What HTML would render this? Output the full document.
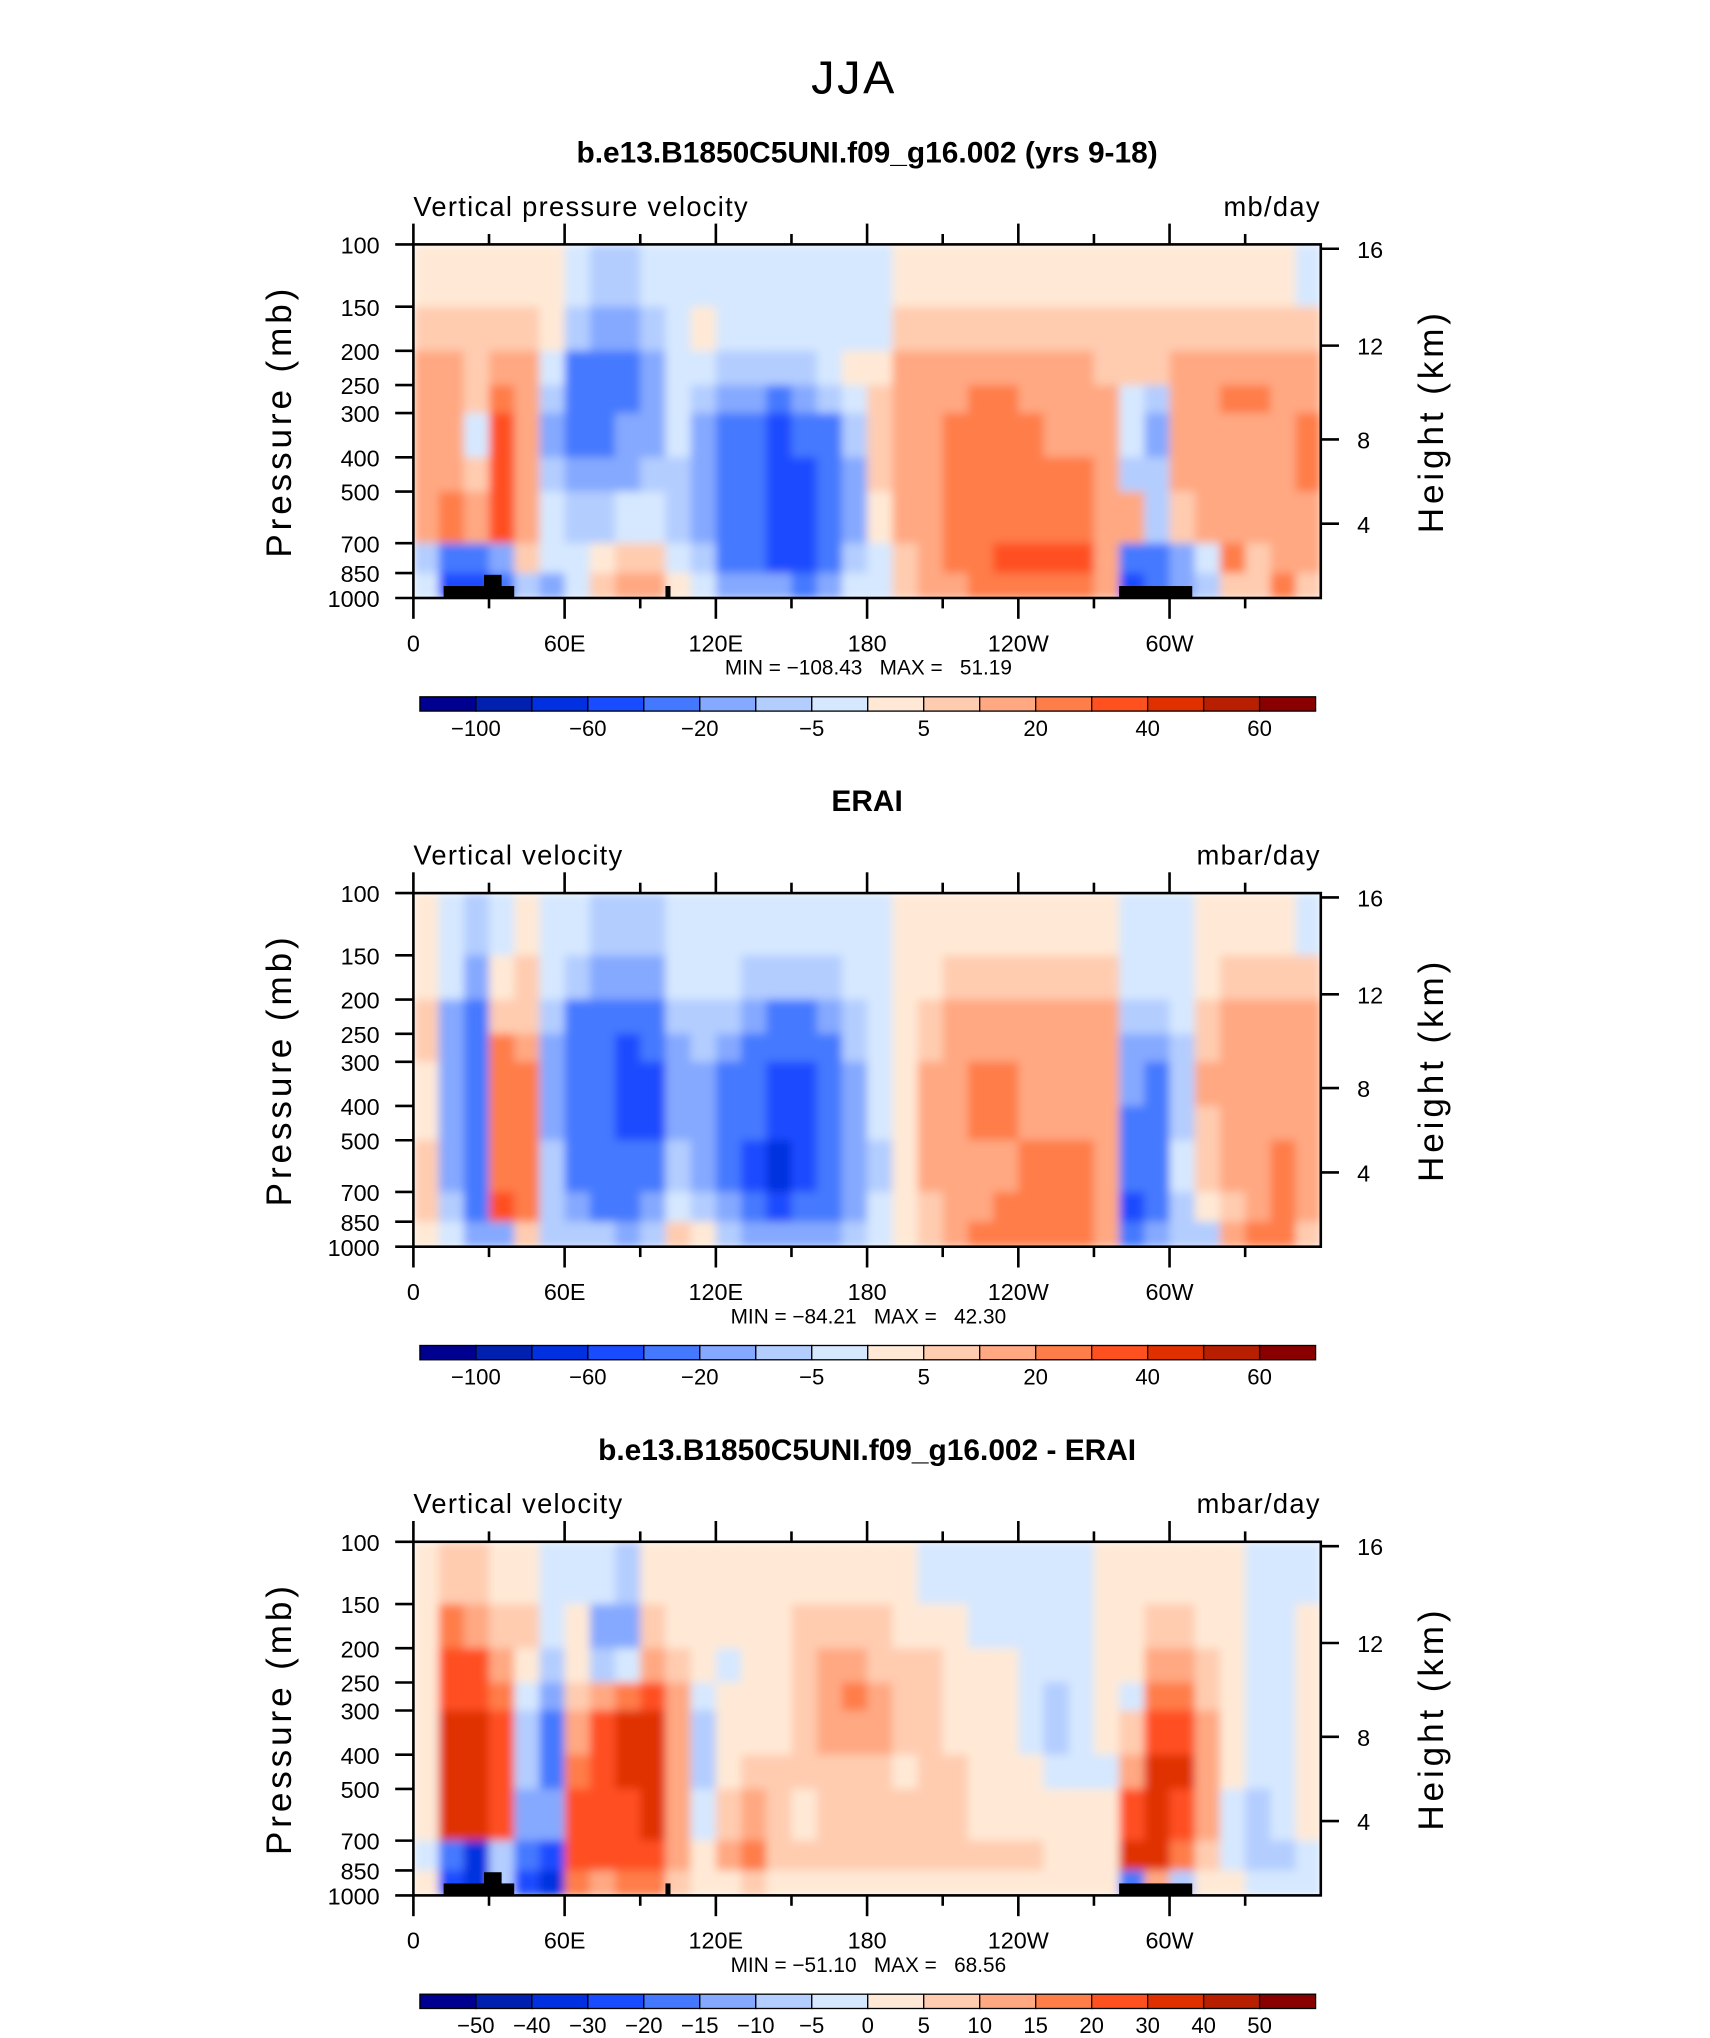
<!DOCTYPE html>
<html><head><meta charset="utf-8"><style>
html,body{margin:0;padding:0;background:#fff;}
svg{display:block;}
text{font-family:"Liberation Sans",sans-serif;fill:#000;white-space:pre;}
</style></head><body>
<svg id="fig" width="1710" height="2038" viewBox="0 0 1315.4 1567.7" preserveAspectRatio="none" xmlns="http://www.w3.org/2000/svg">
<defs>
<filter id="soft" x="0" y="0" width="1" height="1"><feGaussianBlur stdDeviation="3.5" edgeMode="duplicate"/></filter>
</defs>
<text x="657" y="72" font-size="36" text-anchor="middle" font-weight="300" letter-spacing="2">JJA</text>
</svg>
<script>
// ---- data ----
const pressureEdges = [100,150,200,250,300,400,500,700,850,1000];
const pressureTicks = [100,150,200,250,300,400,500,700,850,1000];
const heightTicks = [16,12,8,4];
const lonMajorLabels = ["0","60E","120E","180","120W","60W"];
const levels1 = [-100,-80,-60,-40,-20,-10,-5,0,5,10,20,30,40,50,60];
const levelLabels1 = ["-100","","-60","","-20","","-5","","5","","20","","40","","60"];
const levels3 = [-50,-40,-30,-20,-15,-10,-5,0,5,10,15,20,30,40,50];
const levelLabels3 = ["-50","-40","-30","-20","-15","-10","-5","0","5","10","15","20","30","40","50"];
const palette = ["#000090","#0020b0","#0030e0","#1a4cff","#4479ff","#85a9ff","#b3cdff","#d6e8ff","#ffe9d6","#ffccb0","#ffa882","#ff7d48","#ff5020","#e03000","#b81f00","#8a0000"];

// columns = 10° longitude bands 0..360, rows = pressure bands top->bottom
const model = [
[2,7,10,12,10,12,15,-10,-5],[2,7,15,15,10,15,20,-30,-50],[2,5,7,5,-2,7,10,-40,-60],[2,7,15,20,35,35,35,-20,-30],
[2,7,10,15,15,15,15,7,-10],[2,2,-2,-7,-15,-10,-5,-2,-15],[-2,-7,-30,-30,-30,-15,-7,-2,-5],[-7,-15,-30,-30,-30,-20,-7,2,7],
[-7,-15,-30,-30,-20,-15,-2,7,10],[-2,-7,-15,-15,-15,-10,-2,7,10],[-2,-2,-2,-5,-5,-7,-7,-2,2],[-2,2,-2,-7,-15,-15,-15,-7,-2],
[-2,-2,-7,-15,-30,-30,-30,-30,-15],[-2,-2,-10,-20,-30,-35,-35,-30,-15],[-2,-2,-10,-25,-45,-50,-50,-50,-20],[-2,-5,-10,-20,-40,-55,-55,-45,-25],
[-2,-2,-5,-10,-25,-35,-35,-30,-15],[-2,-2,2,-2,-7,-15,-15,-10,-5],[-2,-2,2,7,7,5,2,-2,-2],[2,5,10,15,15,15,10,7,5],
[2,7,10,15,15,15,15,15,10],[2,7,12,18,25,25,25,25,15],[2,7,12,20,25,25,25,25,20],[2,7,12,20,25,25,25,35,25],
[2,7,12,15,20,25,25,35,25],[2,7,10,15,15,25,25,35,25],[2,5,10,12,15,20,25,35,25],[2,5,7,10,12,15,15,15,10],
[2,7,5,-5,-5,-7,10,-40,-50],[2,7,7,-7,-15,-10,-7,-30,-30],[2,7,10,15,15,15,7,-15,-15],[2,7,15,15,15,15,10,-5,-7],
[2,7,15,25,15,15,15,20,5],[2,7,15,25,15,15,10,7,5],[2,7,15,15,15,15,15,10,20],[-2,7,12,15,20,20,15,10,7]];
const erai = [
[2,2,7,7,2,2,7,5,2],[-2,-5,-15,-20,-20,-15,-15,-10,-5],[-7,-15,-30,-30,-30,-30,-30,-30,-20],[-2,2,7,25,25,25,25,35,-20],
[2,7,7,15,25,25,25,25,7],[-2,-2,-7,-15,-15,-15,-10,-10,-7],[-2,-7,-30,-30,-30,-30,-30,-20,-10],[-7,-15,-30,-30,-30,-30,-30,-30,-10],
[-7,-15,-30,-45,-45,-45,-30,-30,-15],[-7,-15,-30,-30,-45,-45,-30,-15,-7],[-2,-2,-7,-15,-15,-15,-10,-5,5],[-2,-2,-7,-10,-15,-15,-15,-7,2],
[-2,-2,-7,-15,-30,-30,-30,-15,-7],[-2,-7,-15,-30,-30,-35,-45,-30,-15],[-2,-7,-30,-30,-45,-60,-65,-45,-15],[-2,-10,-30,-30,-45,-50,-50,-40,-15],
[-2,-7,-15,-30,-30,-30,-30,-30,-15],[-2,-2,-7,-10,-15,-15,-15,-15,-7],[-2,-2,-2,-2,-5,-5,-7,-5,-2],[2,2,2,2,2,2,2,2,2],
[2,2,7,7,10,10,10,7,5],[2,5,10,15,15,15,15,15,15],[2,7,15,15,25,25,15,15,25],[2,7,15,15,25,20,15,20,25],
[2,7,15,15,15,15,25,25,25],[2,7,15,15,15,15,25,25,25],[2,7,15,15,15,15,20,20,20],[2,5,10,15,15,15,15,15,15],
[-2,-2,-7,-15,-15,-30,-30,-45,-30],[-2,-2,-7,-15,-30,-30,-30,-30,-15],[-2,-2,-2,-7,-10,-7,-2,-7,-7],[2,2,7,7,10,7,5,2,-7],
[2,5,10,15,15,15,15,7,15],[2,5,10,15,15,15,15,15,25],[2,5,10,15,15,15,20,20,25],[-2,5,10,15,15,15,15,15,7]];
const diff = [
[2,2,2,2,2,2,2,-2,2],[7,17,25,25,35,35,35,-17,-25],[7,12,25,25,35,35,35,-35,-40],[2,7,12,17,25,25,25,-7,-10],
[2,7,2,-2,-7,-7,-12,-17,-25],[-2,-2,-7,-12,-17,-17,-12,-25,-35],[-2,2,2,7,12,17,25,25,17],[-2,-12,-7,12,25,25,25,25,12],
[-7,-12,-2,17,30,35,25,25,17],[2,7,12,25,30,35,30,25,17],[2,2,7,12,12,12,12,12,7],[2,2,2,-2,-7,-7,-2,2,2],
[2,2,-2,2,2,2,7,12,2],[2,2,2,2,2,7,12,17,7],[2,2,2,2,2,7,7,7,2],[2,7,7,7,7,7,2,7,2],
[2,7,12,12,12,7,7,7,2],[2,7,12,17,12,7,7,7,2],[2,7,7,12,12,7,7,7,2],[2,2,7,7,7,2,7,7,2],
[-2,2,7,7,7,7,7,7,2],[-2,2,2,2,2,7,7,7,2],[-2,-2,2,2,2,2,2,7,2],[-2,-2,2,2,2,2,2,7,2],
[-2,-2,-2,-2,-2,2,2,7,2],[-2,-2,-2,-7,-7,-2,2,2,2],[-2,-2,-2,-2,-2,-2,2,2,2],[2,2,2,2,2,-2,2,2,2],
[2,2,2,-2,7,12,25,35,-20],[2,7,12,17,25,35,35,35,12],[2,7,12,17,25,30,25,17,-7],[2,2,7,7,12,12,12,7,2],
[2,2,2,2,2,2,-2,-2,2],[-2,-2,-2,-2,-2,-2,-7,-7,-2],[-2,-2,-2,-2,-2,-2,-2,-7,-2],[-2,2,2,2,2,2,2,-2,-2]];
// land masks: [lonStart, lonEnd, topPressure]
const land = [[12,40,925],[28,35,860],[100,102,925],[280,309,925]];

// ---- drawing ----
const NS="http://www.w3.org/2000/svg";
const svg=document.getElementById('fig');
function mk(tag,attrs,parent){const e=document.createElementNS(NS,tag);for(const k in attrs)e.setAttribute(k,attrs[k]);(parent||svg).appendChild(e);return e;}
function txt(s,attrs,parent){const e=mk('text',attrs,parent);e.textContent=s;return e;}
const X0=318,X1=1016,PH=272;
function lonX(l){return X0+(X1-X0)*l/360;}
function pY(top,p){return top+PH*Math.log10(p/100);}
function hToP(z){const m=z*1000;return m<=11000?1013.25*Math.pow(1-2.25577e-5*m,5.25588):226.32*Math.exp(-(m-11000)/6341.6);}
function colorFor(v,lev){let i=0;while(i<lev.length&&v>=lev[i])i++;return palette[i];}

function panel(cfg){
  const top=cfg.top;
  const g=mk('g',{});
  
  
  const t=txt(cfg.title,{x:667,y:top-63,'font-size':23,'font-weight':'bold','text-anchor':'middle'},g);
  
  const lt=txt(cfg.left,{x:318,y:top-22,'font-size':21,'letter-spacing':1},g);
  
  const rt=txt(cfg.units,{x:1016,y:top-22,'font-size':21,'text-anchor':'end','letter-spacing':1},g);
  
  const cells=mk('g',{filter:'url(#soft)'},g);
  
  const n=cfg.data.length;
  cfg.data.forEach((col,ci)=>{
    const xa=lonX(360*ci/n),xb=lonX(360*(ci+1)/n);
    col.forEach((v,ri)=>{
      const ya=pY(top,pressureEdges[ri]),yb=pY(top,pressureEdges[ri+1]);
      const r=mk('rect',{x:xa,y:ya,width:xb-xa+0.6,height:yb-ya+0.6,fill:colorFor(v,cfg.levels)},cells);
      
      
    });
  });
  if(cfg.land){land.forEach(L=>{const y=pY(top,L[2]);const r=mk('rect',{x:lonX(L[0]),y:y,width:lonX(L[1])-lonX(L[0]),height:top+PH-y,fill:'#000'},g);
    });}
  const fr=mk('rect',{x:X0,y:top,width:X1-X0,height:PH,fill:'none',stroke:'#000','stroke-width':2},g);
  
  for(let l=0;l<=330;l+=30){const x=lonX(l);const len=l%60===0?16:8;
    mk('line',{x1:x,y1:top,x2:x,y2:top-len,stroke:'#000','stroke-width':2},g);
    mk('line',{x1:x,y1:top+PH,x2:x,y2:top+PH+len,stroke:'#000','stroke-width':2},g);}
  lonMajorLabels.forEach((s,i)=>{const e=txt(s,{x:lonX(i*60),y:top+PH+41,'font-size':18,'text-anchor':'middle'},g);
    });
  pressureTicks.forEach(p=>{const y=pY(top,p);mk('line',{x1:X0,y1:y,x2:X0-14,y2:y,stroke:'#000','stroke-width':2},g);
    const e=txt(String(p),{x:292,y:y+7,'font-size':18,'text-anchor':'end'},g);
    });
  heightTicks.forEach(h=>{const y=pY(top,hToP(h));mk('line',{x1:X1,y1:y,x2:X1+14,y2:y,stroke:'#000','stroke-width':2},g);
    const e=txt(String(h),{x:1044,y:y+7,'font-size':18},g);
    });
  const ya=txt('Pressure (mb)',{x:0,y:0,'font-size':27,'text-anchor':'middle','letter-spacing':3,transform:`translate(224,${top+136}) rotate(-90)`},g);
  
  const yb=txt('Height (km)',{x:0,y:0,'font-size':27,'text-anchor':'middle','letter-spacing':3,transform:`translate(1110,${top+136}) rotate(-90)`},g);
  
  const mm=txt(cfg.minmax,{x:668,y:top+PH+59,'font-size':16,'text-anchor':'middle'},g);
  
  const cb=mk('g',{},g);
  const cx0=323,cw=689/16,cy=top+PH+76;
  palette.forEach((c,i)=>{const r=mk('rect',{x:cx0+i*cw,y:cy,width:cw,height:11,fill:c,stroke:'#000','stroke-width':1},cb);
    });
  cfg.labels.forEach((s,i)=>{if(!s)return;const e=txt(s.replace('-','\u2212'),{x:cx0+(i+1)*cw,y:cy+30,'font-size':17,'text-anchor':'middle'},cb);
    });
}
panel({name:'model-panel',top:188,title:'b.e13.B1850C5UNI.f09_g16.002 (yrs 9-18)',left:'Vertical pressure velocity',units:'mb/day',data:model,levels:levels1,labels:levelLabels1,minmax:'MIN = \u2212108.43   MAX =   51.19',land:true});
panel({name:'erai-panel',top:687,title:'ERAI',left:'Vertical velocity',units:'mbar/day',data:erai,levels:levels1,labels:levelLabels1,minmax:'MIN = \u221284.21   MAX =   42.30',land:false});
panel({name:'difference-panel',top:1186,title:'b.e13.B1850C5UNI.f09_g16.002 - ERAI',left:'Vertical velocity',units:'mbar/day',data:diff,levels:levels3,labels:levelLabels3,minmax:'MIN = \u221251.10   MAX =   68.56',land:true});
</script>
</body></html>
